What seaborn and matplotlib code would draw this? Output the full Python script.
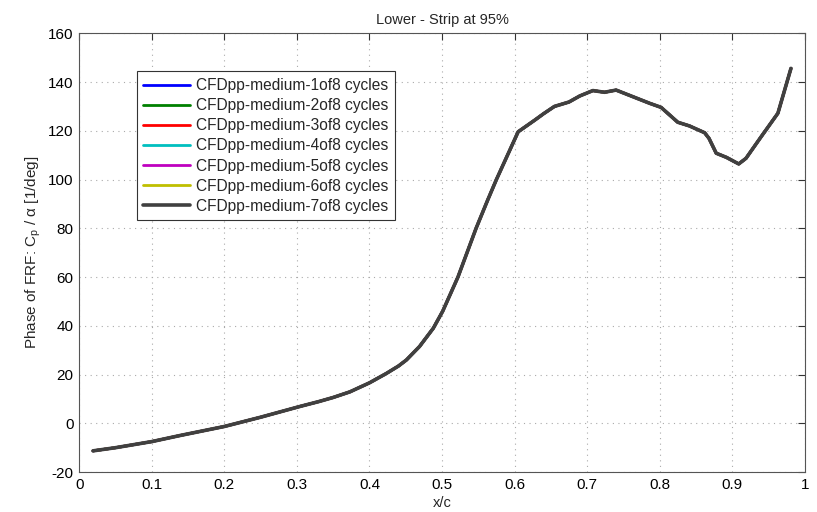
import matplotlib
matplotlib.use("Agg")
import matplotlib.pyplot as plt
import seaborn as sns
import pandas as pd

x_c = [0.019, 0.05, 0.1, 0.139, 0.2, 0.25, 0.304, 0.33, 0.35, 0.373, 0.4, 0.423, 0.44,
       0.451, 0.469, 0.488, 0.501, 0.522, 0.547, 0.563, 0.575, 0.605, 0.628, 0.64,
       0.655, 0.675, 0.69, 0.708, 0.724, 0.74, 0.763, 0.786, 0.802, 0.825, 0.841,
       0.862, 0.868, 0.878, 0.892, 0.909, 0.919, 0.94, 0.963, 0.981]
phase = [-11.3, -10.0, -7.5, -5.0, -1.3, 2.5, 6.9, 8.9, 10.6, 12.9, 16.6, 20.4, 23.5,
         26.0, 31.5, 39.0, 46.0, 60.0, 80.0, 91.6, 100.0, 119.6, 124.4, 127.0,
         130.0, 131.8, 134.3, 136.5, 135.8, 136.7, 134.0, 131.3, 129.6, 123.5, 122.0,
         119.2, 116.9, 110.8, 109.1, 106.4, 108.7, 117.6, 127.2, 145.6]

series_labels = ["CFDpp-medium-1of8 cycles", "CFDpp-medium-2of8 cycles",
                 "CFDpp-medium-3of8 cycles", "CFDpp-medium-4of8 cycles",
                 "CFDpp-medium-5of8 cycles", "CFDpp-medium-6of8 cycles",
                 "CFDpp-medium-7of8 cycles"]
series_colors = ["#0000ff", "#008000", "#ff0000", "#00bfbf", "#bf00bf", "#bfbf00", "#404040"]
series_widths = [2.0, 2.0, 2.0, 2.0, 2.0, 2.0, 2.6]

x_ticks = [0, 0.1, 0.2, 0.3, 0.4, 0.5, 0.6, 0.7, 0.8, 0.9, 1]
x_tick_labels = ["0", "0.1", "0.2", "0.3", "0.4", "0.5", "0.6", "0.7", "0.8", "0.9", "1"]
y_ticks = [-20, 0, 20, 40, 60, 80, 100, 120, 140, 160]

sns.set_style("white")
plt.rcParams['font.family'] = ['Liberation Sans', 'DejaVu Sans']
plt.rcParams['axes.unicode_minus'] = False
plt.rcParams['mathtext.fontset'] = 'custom'
plt.rcParams['mathtext.rm'] = 'Liberation Sans'
plt.rcParams['mathtext.it'] = 'Liberation Sans'

fig = plt.figure(figsize=(8.17, 5.12), dpi=100)
ax = fig.add_axes([0.097, 0.078, 0.888, 0.857])

for lab, col, lw in zip(series_labels, series_colors, series_widths):
    df = pd.DataFrame({"x/c": x_c, "phase": phase})
    sns.lineplot(data=df, x="x/c", y="phase", ax=ax, color=col, linewidth=lw,
                 label=lab, sort=False, estimator=None)

ax.set_xlim(0, 1)
ax.set_ylim(-20, 160)
ax.set_xticks(x_ticks)
ax.set_xticklabels(x_tick_labels)
ax.set_yticks(y_ticks)
ax.tick_params(direction='in', top=True, right=True, length=5, width=0.8,
               labelsize=11, colors='#333333', labelcolor='black', pad=4)
ax.grid(True, linestyle=(0, (1, 4)), color='#aaaaaa', linewidth=0.8)
for s in ax.spines.values():
    s.set_color('#555555')
    s.set_linewidth(0.8)

ax.set_title("Lower - Strip at 95%", fontsize=10.5, pad=7)
ax.set_xlabel("x/c", fontsize=10.5, labelpad=3)
ax.set_ylabel(r"Phase of FRF: C$_\mathrm{p}$ / $\alpha$ [1/deg]", fontsize=11, labelpad=4)

leg = ax.legend(loc='upper left', bbox_to_anchor=(0.079, 0.913), fontsize=11.2,
                frameon=True, fancybox=False, edgecolor='#333333', framealpha=1,
                handlelength=3.0, handletextpad=0.4, labelspacing=0.33,
                borderpad=0.42, borderaxespad=0)
leg.get_frame().set_linewidth(0.8)

fig.savefig("out.png", dpi=100)
